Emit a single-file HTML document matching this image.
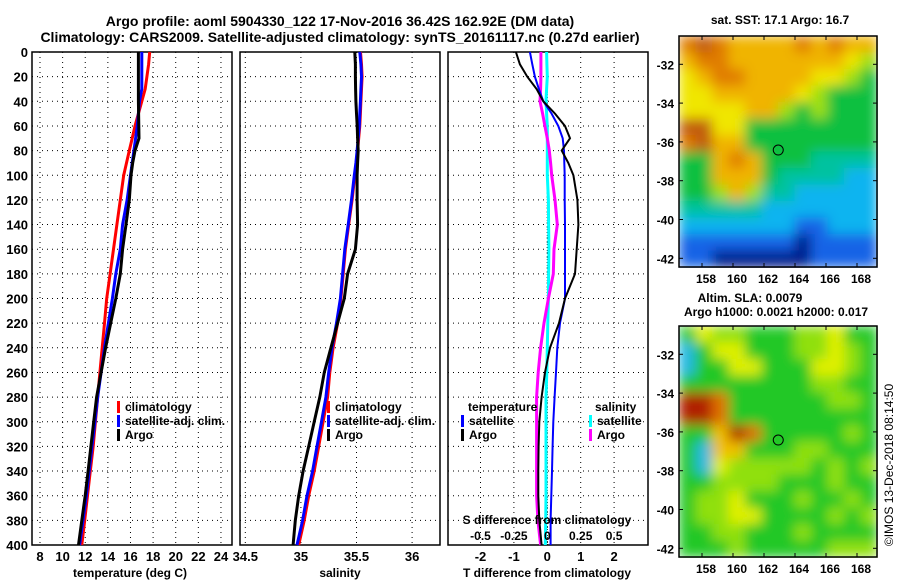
<!DOCTYPE html>
<html><head><meta charset="utf-8">
<style>
html,body{margin:0;padding:0;background:#fff;}
svg{display:block;font-family:"Liberation Sans",sans-serif;font-weight:bold;}
</style></head>
<body>
<svg id="c" width="900" height="580" viewBox="0 0 900 580"></svg>
<script>
// ---- data ----
const depths = [0,10,20,30,40,50,60,70,80,90,100,120,140,160,180,200,220,240,260,280,300,320,340,360,380,400];
const tClim = [17.7,17.6,17.45,17.3,17.0,16.7,16.4,16.15,15.9,15.65,15.4,15.1,14.8,14.5,14.2,13.9,13.7,13.5,13.3,13.1,12.9,12.7,12.45,12.2,11.95,11.7];
const tSat  = [17.0,17.0,17.0,17.0,16.8,16.7,16.6,16.45,16.3,16.15,16.0,15.7,15.3,15.1,14.7,14.4,14.05,13.7,13.4,13.1,12.85,12.6,12.35,12.1,11.8,11.5];
const tArgo = [16.7,16.7,16.7,16.7,16.7,16.72,16.74,16.75,16.4,16.2,16.05,15.9,15.6,15.3,15.1,14.7,14.25,13.8,13.4,13.0,12.75,12.5,12.25,12.0,11.7,11.4];
const sClim = [35.536,35.545,35.55,35.545,35.54,35.535,35.53,35.52,35.51,35.5,35.485,35.46,35.43,35.40,35.38,35.36,35.33,35.29,35.26,35.24,35.20,35.16,35.12,35.07,35.03,34.98];
const sSat  = [35.53,35.54,35.545,35.54,35.535,35.53,35.525,35.515,35.505,35.495,35.48,35.455,35.425,35.395,35.375,35.355,35.32,35.28,35.25,35.225,35.185,35.145,35.105,35.055,35.015,34.965];
const sArgo = [35.485,35.49,35.49,35.492,35.495,35.5,35.506,35.51,35.515,35.51,35.505,35.505,35.51,35.49,35.42,35.39,35.33,35.27,35.21,35.17,35.12,35.07,35.02,34.98,34.95,34.93];
const dtArgo = [-0.94,-0.82,-0.6,-0.32,-0.12,0.23,0.53,0.68,0.43,0.63,0.78,0.9,0.93,0.88,0.83,0.53,0.35,0.08,-0.07,-0.17,-0.24,-0.26,-0.27,-0.27,-0.24,-0.17];
const dtSat  = [-0.52,-0.45,-0.37,-0.25,-0.12,0.13,0.33,0.46,0.5,0.51,0.52,0.52,0.53,0.53,0.53,0.53,0.38,0.3,0.26,0.22,0.18,0.16,0.14,0.12,0.1,0.1];
const dsSat  = [-0.005,-0.003,0,-0.005,-0.01,-0.005,0,0,0,0,0,0.008,0.01,0.012,0.01,0.008,0.004,0,-0.004,-0.01,-0.01,-0.01,-0.01,-0.01,-0.012,-0.015];
const dsArgo = [-0.048,-0.048,-0.048,-0.05,-0.055,-0.035,-0.018,0,0.015,0.025,0.033,0.058,0.075,0.05,0.045,0.008,-0.025,-0.05,-0.068,-0.08,-0.08,-0.08,-0.08,-0.08,-0.07,-0.05];
const depthTicks = [0,20,40,60,80,100,120,140,160,180,200,220,240,260,280,300,320,340,360,380,400];
const tTicks = [8,10,12,14,16,18,20,22,24];
const sTicks = [34.5,35,35.5,36];
const dtTicks = [-2,-1,0,1,2];
const dsTicks = [-0.5,-0.25,0,0.25,0.5];
const dsTickLabels = ["-0.5","-0.25","0","0.25","0.5"];
const lonTicks = [158,160,162,164,166,168];
const latTicks = [-32,-34,-36,-38,-40,-42];
const floatLon = 162.92, floatLat = -36.42;
const sstGrid = ["898777787877","788777777765","678877776654","667777765444","666677545444","996644444444","897744444444","447874443333","447774333322","445753322222","333332222222","222222211222","111111101111","110000001111"];
const slaGrid = ["465544455644","246644455654","244664446654","444444445544","998444444554","998444444444","447984444454","427744455444","426555554545","445555444544","455644454454","455664444545","445544454444","444544444555"];
const sstColors = ["#001a8c","#1463e6","#0ab4f0","#00c2a0","#0ac040","#9ee010","#f0e600","#f0b400","#e07c00","#c05a10"];
const slaColors = ["#0000a0","#2060e0","#20b8e0","#10c080","#20c828","#90e010","#e0f000","#f0c000","#e07000","#b02000"];

// ---- helpers ----
const NS="http://www.w3.org/2000/svg", svg=document.getElementById('c');
function el(tag, attrs, parent){const e=document.createElementNS(NS,tag);for(const k in attrs)e.setAttribute(k,attrs[k]);(parent||svg).appendChild(e);return e;}
function txt(x,y,s,size,anchor,parent,weight){const t=el('text',{x:x,y:y,'font-size':size,'text-anchor':anchor||'middle',fill:'#000'},parent);if(weight)t.setAttribute('font-weight',weight);t.textContent=s;return t;}
const Y0=52, Y1=545;
const yD = d => Y0 + d*(Y1-Y0)/400;
const xT = v => 40 + (v-8)*11.31;
const xS = v => 245.3 + (v-34.5)*111.2;
const xDT = v => 547.3 + v*33.4;
const xDS = v => 547.3 + v*133.6;

function panel(name, x0, x1, ticks, xf, labels, showDepth){
  const g=el('g',{});
  
  
  for(const d of depthTicks){ if(d>0&&d<400) el('line',{x1:x0,x2:x1,y1:yD(d),y2:yD(d),stroke:'#000','stroke-width':1,'stroke-dasharray':'1,4'},g); }
  ticks.forEach((t,i)=>{const x=xf(t); if(x>x0+1&&x<x1-1) el('line',{x1:x,x2:x,y1:Y0,y2:Y1,stroke:'#000','stroke-width':1,'stroke-dasharray':'1,4'},g);
    txt(x,561,labels?labels[i]:String(t),13,'middle',g);});
  el('rect',{x:x0,y:Y0,width:x1-x0,height:Y1-Y0,fill:'none',stroke:'#000','stroke-width':1.5},g);
  if(showDepth){ for(const d of depthTicks){ txt(28,yD(d)+5,String(d),13,'end',g); } }
  return g;
}
function line(name, xs, xf, color, w, parent){
  const p = xs.map((v,i)=>xf(v).toFixed(1)+','+yD(depths[i]).toFixed(1)).join(' ');
  const l = el('polyline',{points:p,fill:'none',stroke:color,'stroke-width':w,'stroke-linejoin':'miter'},parent);
  
  
  return l;
}
function legendEntry(x,y,color,label,name,parent){
  const g=el('g',{},parent);
  
  
  el('rect',{x:x,y:y-10,width:3,height:12,fill:color},g);
  txt(x+8,y,label,12,'start',g);
}

// titles
const t1=txt(340,26,"Argo profile: aoml 5904330_122 17-Nov-2016 36.42S 162.92E (DM data)",14,'middle');


const t2=txt(340,42,"Climatology: CARS2009. Satellite-adjusted climatology: synTS_20161117.nc (0.27d earlier)",14,'middle');



// panel 1 temperature
const p1=panel('temperature-panel',32,232,tTicks,xT,null,true);
line('temperature-climatology-line',tClim,xT,'#ff0000',3,p1);
line('temperature-satellite-line',tSat,xT,'#0000ff',3,p1);
line('temperature-argo-line',tArgo,xT,'#000',3,p1);
legendEntry(117,411,'#ff0000','climatology','legend-climatology',p1);
legendEntry(117,425,'#0000ff','satellite-adj. clim.','legend-satellite',p1);
legendEntry(117,439,'#000','Argo','legend-argo',p1);
txt(130,577,'temperature (deg C)',12,'middle',p1);

// panel 2 salinity
const p2=panel('salinity-panel',240,440,sTicks,xS,null,false);
line('salinity-climatology-line',sClim,xS,'#ff0000',3,p2);
line('salinity-satellite-line',sSat,xS,'#0000ff',3,p2);
line('salinity-argo-line',sArgo,xS,'#000',3,p2);
legendEntry(327,411,'#ff0000','climatology','legend-climatology-s',p2);
legendEntry(327,425,'#0000ff','satellite-adj. clim.','legend-satellite-s',p2);
legendEntry(327,439,'#000','Argo','legend-argo-s',p2);
txt(340,577,'salinity',12,'middle',p2);

// panel 3 differences
const p3=panel('difference-panel',448,648,dtTicks,xDT,null,false);
el('line',{x1:xDT(0),x2:xDT(0),y1:Y0,y2:Y1,stroke:'#000','stroke-width':1,'stroke-dasharray':'1,2'},p3);
line('s-diff-satellite-line',dsSat,xDS,'#00ffff',3,p3);
line('s-diff-argo-line',dsArgo,xDS,'#ff00ff',3,p3);
line('t-diff-satellite-line',dtSat,xDT,'#0000ff',2,p3);
line('t-diff-argo-line',dtArgo,xDT,'#000',2,p3);
txt(468,411,'temperature',12,'start',p3);
legendEntry(461,425,'#0000ff','satellite','legend-t-satellite',p3);
legendEntry(461,439,'#000','Argo','legend-t-argo',p3);
txt(595,411,'salinity',12,'start',p3);
legendEntry(589,425,'#00ffff','satellite','legend-s-satellite',p3);
legendEntry(589,439,'#ff00ff','Argo','legend-s-argo',p3);
txt(547,524,'S difference from climatology',12,'middle',p3);
dsTicks.forEach((t,i)=>txt(xDS(t),540,dsTickLabels[i],12,'middle',p3));
txt(547,577,'T difference from climatology',12,'middle',p3);

// maps
const defs=el('defs',{});
const f=el('filter',{id:'blur',x:'0',y:'0',width:'1',height:'1'},defs);
el('feGaussianBlur',{stdDeviation:'6',edgeMode:'duplicate'},f);
function map(name, grid, colors, top){
  const g=el('g',{});
  
  
  const x0=679,x1=877,y1=top+231;
  const rows=grid.length, cols=grid[0].length, cw=(x1-x0)/cols, ch=(y1-top)/rows;
  const cg=el('g',{filter:'url(#blur)'},g);
  grid.forEach((row,r)=>{for(let c=0;c<cols;c++){el('rect',{x:(x0+c*cw).toFixed(1),y:(top+r*ch).toFixed(1),width:(cw+0.6).toFixed(1),height:(ch+0.6).toFixed(1),fill:colors[+row[c]]},cg);}});
  const xl=lon=>702+(lon-158)*15.5, yl=lat=>top+28.3+(-32-lat)*19.4;
  el('rect',{x:x0,y:top,width:x1-x0,height:y1-top,fill:'none',stroke:'#000','stroke-width':1.5},g);
  for(const lo of lonTicks){el('line',{x1:xl(lo),x2:xl(lo),y1:y1,y2:y1-4,stroke:'#000'},g);el('line',{x1:xl(lo),x2:xl(lo),y1:top,y2:top+4,stroke:'#000'},g);txt(xl(lo)+4,y1+16,String(lo),12,'middle',g);}
  for(const la of latTicks){el('line',{x1:x0,x2:x0+4,y1:yl(la),y2:yl(la),stroke:'#000'},g);el('line',{x1:x1,x2:x1-4,y1:yl(la),y2:yl(la),stroke:'#000'},g);txt(674,yl(la)+5,String(la),12,'end',g);}
  const m=el('circle',{cx:xl(floatLon),cy:yl(floatLat),r:5,fill:'none',stroke:'#000','stroke-width':1},g);
  
  
  return g;
}
const mt1=txt(780,24,'sat. SST: 17.1 Argo: 16.7',12,'middle');


map('sst-map',sstGrid,sstColors,36);
const mt2=txt(750,302,'Altim. SLA: 0.0079',12,'middle');


const mt3=txt(776,316,'Argo h1000: 0.0021 h2000: 0.017',12,'middle');


map('sla-map',slaGrid,slaColors,326);
const cr=txt(0,0,'©IMOS 13-Dec-2018 08:14:50',12,'middle',null,'normal');
cr.setAttribute('transform','translate(893,465) rotate(-90)');


</script>
</body></html>
